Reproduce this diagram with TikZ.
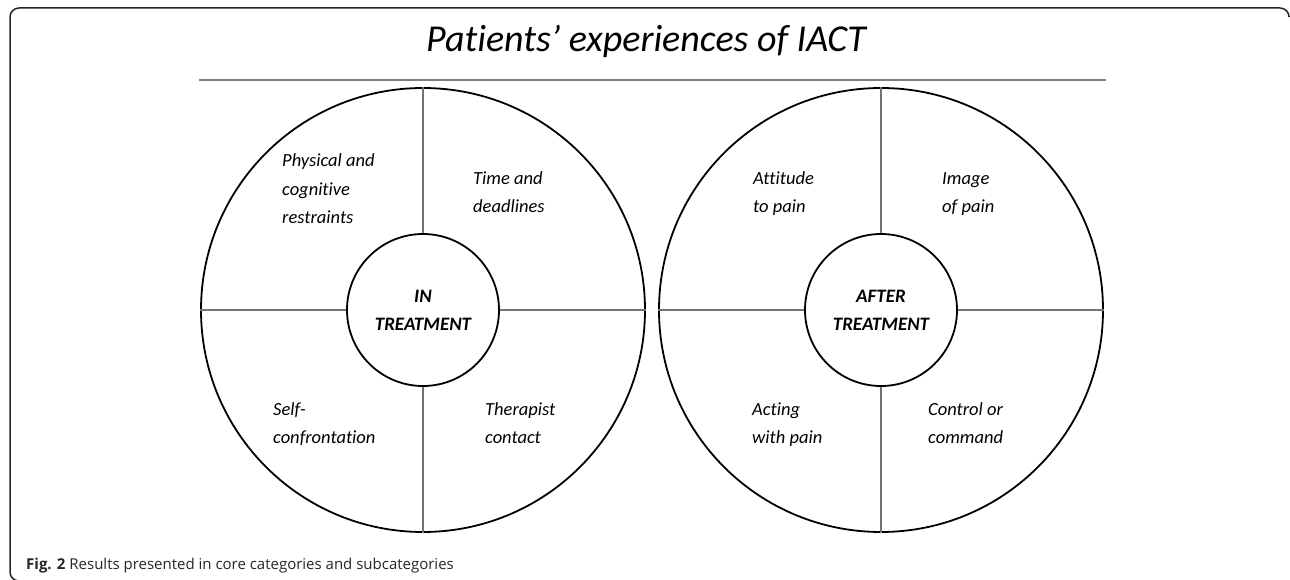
\documentclass[tikz,border=0pt]{standalone}
\usepackage{fontspec}
\setmainfont[Ligatures={NoCommon}]{Carlito}
\newfontfamily\capfont{Open Sans}
\begin{document}
\begin{tikzpicture}[x=1pt,y=-1pt,
  outer/.style={circle,draw=black,line width=1.8pt,minimum size=444pt,inner sep=0pt},
  core/.style={circle,draw=black,line width=1.8pt,minimum size=152pt,inner sep=0pt,
    align=center,font=\fontsize{19}{28}\selectfont\bfseries\itshape},
  divider/.style={draw=black!55,line width=1.3pt},
  sub/.style={anchor=base west,inner sep=0pt,align=left,
    font=\fontsize{18.5}{28}\selectfont\itshape},
]
\useasboundingbox (0,0) rectangle (1290,580);
% frame
\draw[black!85,line width=1.5pt,rounded corners=9pt]
  (1289,16) -- (1289,8) -- (10,8) -- (10,581) -- (40,581);
% title and rule
\node[anchor=base,inner sep=0pt,font=\fontsize{38}{40}\selectfont\itshape] (title) at (646,52)
  {Patients’ experiences of IACT};
\coordinate (ruleL) at (199,80);
\coordinate (ruleR) at (1106,80);
\draw[black!50,line width=2pt] (ruleL) -- (ruleR);

% left wheel
\node[outer] (o1) at (423,310) {};
\node[core] (c1) at (423,310) {IN\\TREATMENT};
\draw[divider] (c1.north) -- (o1.north);
\draw[divider] (c1.south) -- (o1.south);
\draw[divider] (c1.west) -- (o1.west);
\draw[divider] (c1.east) -- (o1.east);
% base anchor of a stacked label sits on its last line
\node[sub] (s11) at (282,223) {Physical and\\cognitive\\restraints};
\node[sub] (s12) at (473,212) {Time and\\deadlines};
\node[sub] (s13) at (273,443) {Self-\\confrontation};
\node[sub] (s14) at (485,443) {Therapist\\contact};

% right wheel
\node[outer] (o2) at (881,310) {};
\node[core] (c2) at (881,310) {AFTER\\TREATMENT};
\draw[divider] (c2.north) -- (o2.north);
\draw[divider] (c2.south) -- (o2.south);
\draw[divider] (c2.west) -- (o2.west);
\draw[divider] (c2.east) -- (o2.east);
\node[sub] (s21) at (753,212) {Attitude\\to pain};
\node[sub] (s22) at (942,212) {Image\\of pain};
\node[sub] (s23) at (752,443) {Acting\\with pain};
\node[sub] (s24) at (928,443) {Control or\\command};

% caption
\node[anchor=base west,inner sep=0pt,font=\capfont\fontsize{15}{18}\selectfont,text=black!85] (cap) at (26,569)
  {\textbf{Fig. 2} Results presented in core categories and subcategories};
\end{tikzpicture}
\end{document}
